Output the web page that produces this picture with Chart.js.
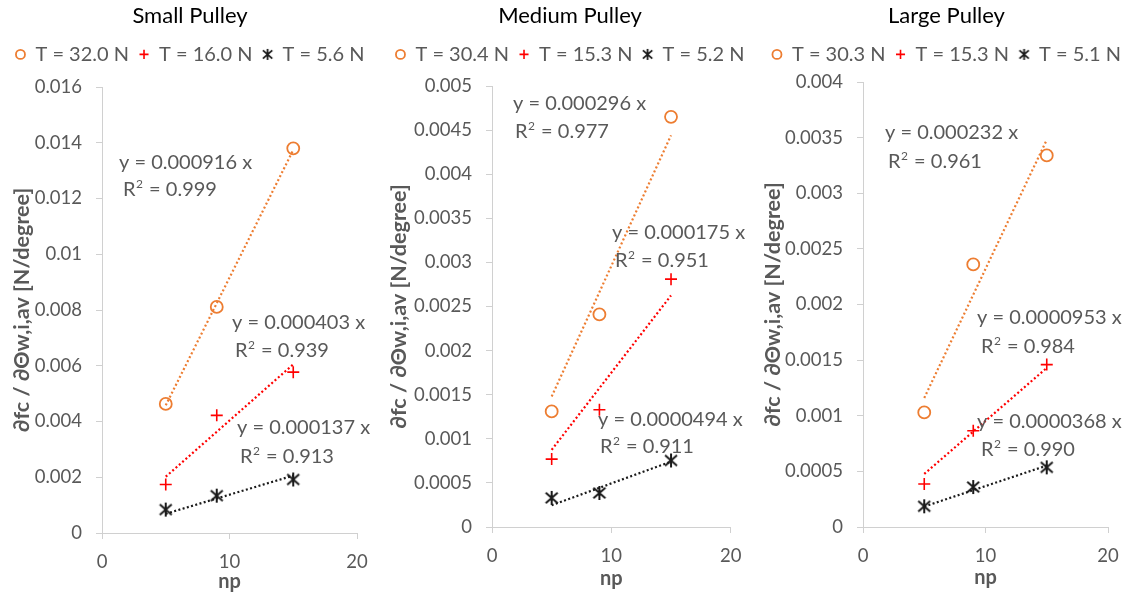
<!DOCTYPE html>
<html><head><meta charset="utf-8">
<script src="https://cdn.jsdelivr.net/npm/chart.js@4.4.1/dist/chart.umd.min.js"></script>
<style>
html,body{margin:0;padding:0;background:#fff;}
#wrap{position:relative;width:1133px;height:594px;overflow:hidden;}
.pane{position:absolute;top:0;height:594px;}
canvas{display:block;}
</style></head><body>
<div id="wrap">
  <div class="pane" style="left:0;width:380px"><canvas id="c1" width="380" height="594"></canvas></div>
  <div class="pane" style="left:380px;width:380px"><canvas id="c2" width="380" height="594"></canvas></div>
  <div class="pane" style="left:760px;width:373px"><canvas id="c3" width="373" height="594"></canvas></div>
</div>
<script>
// ---------- data ----------
const np = [5, 9, 15];
const fitX = [5, 15];

// Small pulley
const smallTitle = 'Small Pulley';
const smallLabels = ['T = 32.0 N', 'T = 16.0 N', 'T = 5.6 N'];
const smallHigh = [0.00463, 0.00811, 0.0138];
const smallMid = [0.00174, 0.00422, 0.00577];
const smallLow = [0.00084, 0.00134, 0.00192];
const smallFitHigh = [0.00458, 0.01374];
const smallFitMid = [0.00202, 0.00605];
const smallFitLow = [0.00069, 0.00206];
const smallEq = ['y = 0.000916 x', 'y = 0.000403 x', 'y = 0.000137 x'];
const smallR2 = ['R² = 0.999', 'R² = 0.939', 'R² = 0.913'];

// Medium pulley
const medTitle = 'Medium Pulley';
const medLabels = ['T = 30.4 N', 'T = 15.3 N', 'T = 5.2 N'];
const medHigh = [0.00131, 0.00241, 0.00465];
const medMid = [0.00077, 0.00133, 0.00281];
const medLow = [0.00033, 0.000386, 0.000754];
const medFitHigh = [0.00148, 0.00444];
const medFitMid = [0.000875, 0.002625];
const medFitLow = [0.000247, 0.000741];
const medEq = ['y = 0.000296 x', 'y = 0.000175 x', 'y = 0.0000494 x'];
const medR2 = ['R² = 0.977', 'R² = 0.951', 'R² = 0.911'];

// Large pulley
const largeTitle = 'Large Pulley';
const largeLabels = ['T = 30.3 N', 'T = 15.3 N', 'T = 5.1 N'];
const largeHigh = [0.00103, 0.00236, 0.00334];
const largeMid = [0.000386, 0.000865, 0.00146];
const largeLow = [0.000186, 0.000359, 0.000536];
const largeFitHigh = [0.00116, 0.00348];
const largeFitMid = [0.000477, 0.00143];
const largeFitLow = [0.000184, 0.000552];
const largeEq = ['y = 0.000232 x', 'y = 0.0000953 x', 'y = 0.0000368 x'];
const largeR2 = ['R² = 0.961', 'R² = 0.984', 'R² = 0.990'];

const xTicks = [0, 10, 20];
const yAxisTitle = '∂fc / ∂Θw,i,av [N/degree]';
const xAxisTitle = 'np';

// ---------- style ----------
const FONT = 'Lato, "Liberation Sans", sans-serif';
const GREY = '#595959';
const ORANGE = '#ED7D31';
const RED = '#FF0000';
const BLACK = '#1a1a1a';
const AXIS = '#d0d0d0';

function makeStar(size, lw, color) {
  const c = document.createElement('canvas');
  c.width = size; c.height = size;
  const g = c.getContext('2d');
  g.strokeStyle = color; g.lineWidth = lw; g.lineCap = 'butt';
  const m = size / 2, r = size / 2 - 1;
  const dx = r * 0.85, dy = r * 0.75;
  g.beginPath();
  g.moveTo(m, m - r); g.lineTo(m, m + r);
  g.moveTo(m - dx, m - dy); g.lineTo(m + dx, m + dy);
  g.moveTo(m - dx, m + dy); g.lineTo(m + dx, m - dy);
  g.stroke();
  return c;
}
const starBig = makeStar(16, 2, BLACK);
const starSmall = makeStar(13, 1.8, BLACK);

function drawRich(ctx, text, x, y, size) {
  // draws text; a '²' is drawn as a raised small "2"
  const parts = text.split('²');
  let cx = x;
  parts.forEach((p, i) => {
    ctx.font = size + 'px ' + FONT;
    ctx.fillText(p, cx, y);
    cx += ctx.measureText(p).width;
    if (i < parts.length - 1) {
      const s = Math.round(size * 0.62);
      ctx.font = s + 'px ' + FONT;
      ctx.fillText('2', cx + 0.5, y - size * 0.3);
      cx += ctx.measureText('2').width + 1.5;
    }
  });
}

const textPlugin = {
  id: 'eqText',
  afterDatasetsDraw(chart, args, opts) {
    const ctx = chart.ctx;
    ctx.save();
    ctx.fillStyle = opts.color;
    ctx.textAlign = 'left';
    ctx.textBaseline = 'middle';
    (opts.items || []).forEach(it => drawRich(ctx, it.text, it.x, it.y, opts.size));
    ctx.restore();
  }
};

function pts(xs, ys) { return xs.map((x, i) => ({x, y: ys[i]})); }

function makeChart(id, d, L) {
  const fitStyle = (color) => ({
    showLine: true, borderColor: color, borderWidth: 2.2, borderDash: [2, 2.4],
    pointRadius: 0, pointHoverRadius: 0, backgroundColor: color, fill: false
  });
  const datasets = [
    { label: d.labels[0], data: pts(np, d.high), pointStyle: 'circle', pointRadius: 6,
      borderColor: ORANGE, backgroundColor: 'rgba(0,0,0,0)', borderWidth: 1.8, showLine: false },
    { label: d.labels[1], data: pts(np, d.mid), pointStyle: 'cross', pointRadius: 6,
      borderColor: RED, backgroundColor: RED, borderWidth: 1.6, showLine: false },
    { label: d.labels[2], data: pts(np, d.low), pointStyle: starBig, pointRadius: 6,
      borderColor: BLACK, backgroundColor: BLACK, borderWidth: 1.5, showLine: false },
    Object.assign({ label: 'fitHigh', data: pts(fitX, d.fitHigh) }, fitStyle(ORANGE)),
    Object.assign({ label: 'fitMid', data: pts(fitX, d.fitMid) }, fitStyle(RED)),
    Object.assign({ label: 'fitLow', data: pts(fitX, d.fitLow) }, fitStyle(BLACK)),
  ];
  const items = [];
  for (let i = 0; i < 3; i++) {
    items.push({ text: d.eq[i], x: L.eqPos[i][0], y: L.eqPos[i][1] });
    items.push({ text: d.r2[i], x: L.r2Pos[i][0], y: L.r2Pos[i][1] });
  }
  return new Chart(document.getElementById(id), {
    type: 'scatter',
    data: { datasets },
    options: {
      responsive: false, animation: false, devicePixelRatio: 1,
      events: [],
      layout: { padding: 0 },
      plugins: {
        tooltip: { enabled: false },
        title: { display: true, text: d.title, color: '#000', weight: 2000,
          font: { family: FONT, size: 22, weight: 'normal' }, padding: { top: 3, bottom: 5 } },
        legend: { display: true, position: 'top', align: 'center',
          labels: {
            usePointStyle: true, boxWidth: 10, boxHeight: 6.4, padding: 10, color: GREY,
            font: { family: FONT, size: 20 },
            generateLabels(chart) {
              const base = Chart.defaults.plugins.legend.labels.generateLabels(chart);
              return base.filter(it => it.datasetIndex < 3).map(it => {
                if (it.datasetIndex === 2) it.pointStyle = starSmall;
                return it;
              });
            }
          } },
        subtitle: { display: true, text: '', weight: 100, font: { size: 1, lineHeight: 1 },
          padding: { top: 0, bottom: L.spacer - 1 } },
        eqText: { items, size: 20, color: GREY }
      },
      scales: {
        x: {
          type: 'linear', position: 'bottom', min: 0, max: 20,
          afterBuildTicks(s) { s.ticks = xTicks.map(v => ({ value: v })); },
          ticks: { color: GREY, font: { family: FONT, size: 18.5 }, padding: L.xTickPad, maxRotation: 0 },
          grid: { drawOnChartArea: false, drawTicks: true, tickLength: 6, color: AXIS, lineWidth: 1 },
          border: { display: true, color: AXIS, width: 1 },
          title: { display: true, text: xAxisTitle, color: GREY,
            font: { family: FONT, size: 20, weight: 'bold' }, padding: { top: 0, bottom: L.xTitlePad } },
          afterFit(s) { s.height = 594 - L.plotBottom; s.paddingLeft = 0; s.paddingRight = L.w - L.plotRight; }
        },
        y: {
          type: 'linear', position: 'left', min: 0, max: L.yMax,
          ticks: { stepSize: L.yStep, color: GREY, font: { family: FONT, size: 18.5 }, padding: 14,
            maxTicksLimit: 20, callback: v => String(+Number(v).toFixed(6)) },
          grid: { drawOnChartArea: false, drawTicks: true, tickLength: 6, color: AXIS, lineWidth: 1 },
          border: { display: true, color: AXIS, width: 1 },
          title: { display: true, text: yAxisTitle, color: GREY,
            font: { family: FONT, size: 21.5, weight: 'bold' }, padding: { top: L.yTitlePad, bottom: 0 } },
          afterFit(s) { s.width = L.plotLeft; s.paddingTop = 0; s.paddingBottom = 0; }
        }
      }
    },
    plugins: [textPlugin]
  });
}

makeChart('c1', {
  title: smallTitle, labels: smallLabels, high: smallHigh, mid: smallMid, low: smallLow,
  fitHigh: smallFitHigh, fitMid: smallFitMid, fitLow: smallFitLow, eq: smallEq, r2: smallR2
}, {
  w: 380, plotLeft: 102, plotRight: 357, plotBottom: 533, spacer: 12.6,
  yMax: 0.016, yStep: 0.002, yTitlePad: 9.6, xTitlePad: 0.3, xTickPad: 12,
  eqPos: [[119, 163], [232, 323], [237, 428]], r2Pos: [[123, 190], [235, 351], [240, 457]]
});
makeChart('c2', {
  title: medTitle, labels: medLabels, high: medHigh, mid: medMid, low: medLow,
  fitHigh: medFitHigh, fitMid: medFitMid, fitLow: medFitLow, eq: medEq, r2: medR2
}, {
  w: 380, plotLeft: 112, plotRight: 350.7, plotBottom: 527, spacer: 11.6,
  yMax: 0.005, yStep: 0.0005, yTitlePad: 5.9, xTitlePad: 3, xTickPad: 11.5,
  eqPos: [[133, 104], [232, 233], [218, 420]], r2Pos: [[135, 132], [235, 261], [220, 447]]
});
makeChart('c3', {
  title: largeTitle, labels: largeLabels, high: largeHigh, mid: largeMid, low: largeLow,
  fitHigh: largeFitHigh, fitMid: largeFitMid, fitLow: largeFitLow, eq: largeEq, r2: largeR2
}, {
  w: 373, plotLeft: 103, plotRight: 348, plotBottom: 527, spacer: 7.6,
  yMax: 0.004, yStep: 0.0005, yTitlePad: 0.2, xTitlePad: 4, xTickPad: 11.5,
  eqPos: [[125, 133], [217, 318], [217, 422]], r2Pos: [[128, 162], [221, 347], [221, 450]]
});
</script>
</body></html>
